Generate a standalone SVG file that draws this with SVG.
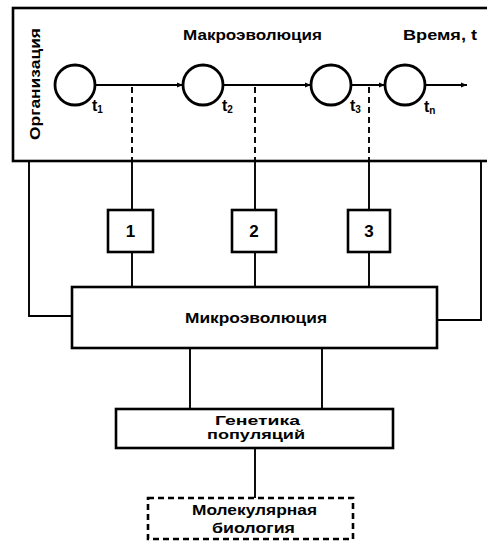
<svg xmlns="http://www.w3.org/2000/svg" width="487" height="542" viewBox="0 0 487 542">
<style>
.box{fill:#fff;stroke:#000;stroke-width:2.6}
.dbox{fill:#fff;stroke:#000;stroke-width:2.6;stroke-dasharray:6 4}
.st{fill:#fff;stroke:#000;stroke-width:2.8}
.ln{fill:none;stroke:#000;stroke-width:1.9}
.dl{fill:none;stroke:#000;stroke-width:1.9;stroke-dasharray:6 4}
.t{font-family:"Liberation Sans",Arial,sans-serif;font-weight:bold;fill:#000}
</style>
<defs>
<marker id="ah" viewBox="0 0 10 10" refX="10" refY="5" markerWidth="8" markerHeight="6" markerUnits="userSpaceOnUse" orient="auto">
<path d="M0,1 L10,5 L0,9 Z" fill="#000"/>
</marker>
</defs>
<rect width="487" height="542" fill="#fff"/>
<g id="organization">
<rect class="box" x="13" y="8" width="480" height="153"/>
<text class="t" font-size="15" transform="translate(40,140) rotate(-90)" textLength="112" lengthAdjust="spacingAndGlyphs">Организация</text>
<text class="t" font-size="15" x="183" y="40" textLength="139" lengthAdjust="spacingAndGlyphs">Макроэволюция</text>
<text class="t" font-size="15" x="403" y="40" textLength="74" lengthAdjust="spacingAndGlyphs">Время, t</text>
</g>
<g id="connectors">
<line class="ln" x1="95" y1="85" x2="183" y2="85" marker-end="url(#ah)"/>
<line class="ln" x1="223" y1="85" x2="311" y2="85" marker-end="url(#ah)"/>
<line class="ln" x1="351" y1="85" x2="385" y2="85" marker-end="url(#ah)"/>
<line class="ln" x1="425" y1="85" x2="467" y2="85" marker-end="url(#ah)"/>
<line class="dl" x1="132" y1="87" x2="132" y2="161"/>
<line class="dl" x1="255" y1="87" x2="255" y2="161"/>
<line class="dl" x1="369" y1="87" x2="369" y2="161"/>
<line class="ln" x1="132" y1="161" x2="132" y2="210"/>
<line class="ln" x1="255" y1="161" x2="255" y2="210"/>
<line class="ln" x1="369" y1="161" x2="369" y2="210"/>
<line class="ln" x1="132" y1="252" x2="132" y2="287"/>
<line class="ln" x1="255" y1="252" x2="255" y2="287"/>
<line class="ln" x1="369" y1="252" x2="369" y2="287"/>
<polyline class="ln" points="29,161 29,316 72,316"/>
<polyline class="ln" points="437,320 481,320 481,161"/>
<line class="ln" x1="190" y1="348" x2="190" y2="409"/>
<line class="ln" x1="322" y1="348" x2="322" y2="409"/>
<line class="ln" x1="255" y1="448" x2="255" y2="498"/>
</g>
<g id="t1">
<circle class="st" cx="75" cy="85" r="20"/>
<text class="t" font-size="16" x="92" y="111">t<tspan font-size="10" dy="2">1</tspan></text>
</g>
<g id="t2">
<circle class="st" cx="203" cy="85" r="20"/>
<text class="t" font-size="16" x="222" y="111">t<tspan font-size="10" dy="2">2</tspan></text>
</g>
<g id="t3">
<circle class="st" cx="331" cy="85" r="20"/>
<text class="t" font-size="16" x="350" y="111">t<tspan font-size="10" dy="2">3</tspan></text>
</g>
<g id="tn">
<circle class="st" cx="405" cy="85" r="20"/>
<text class="t" font-size="16" x="424" y="112">t<tspan font-size="10" dy="2">n</tspan></text>
</g>
<g id="box1">
<rect class="box" x="108" y="210" width="45" height="42"/>
<text class="t" font-size="17" x="130.5" y="237" text-anchor="middle">1</text>
</g>
<g id="box2">
<rect class="box" x="232" y="210" width="44" height="42"/>
<text class="t" font-size="17" x="254" y="237" text-anchor="middle">2</text>
</g>
<g id="box3">
<rect class="box" x="348" y="210" width="42" height="42"/>
<text class="t" font-size="17" x="369" y="237" text-anchor="middle">3</text>
</g>
<g id="microevolution">
<rect class="box" x="72" y="287" width="365" height="61"/>
<text class="t" font-size="15" x="185" y="323" textLength="142" lengthAdjust="spacingAndGlyphs">Микроэволюция</text>
</g>
<g id="population-genetics">
<rect class="box" x="116" y="409" width="277" height="39"/>
<text class="t" font-size="13" x="215" y="425" textLength="85" lengthAdjust="spacingAndGlyphs">Генетика</text>
<text class="t" font-size="13" x="207" y="439" textLength="98" lengthAdjust="spacingAndGlyphs">популяций</text>
</g>
<g id="molecular-biology">
<rect class="dbox" x="148" y="498" width="205" height="41"/>
<text class="t" font-size="14" x="192" y="515" textLength="125" lengthAdjust="spacingAndGlyphs">Молекулярная</text>
<text class="t" font-size="14" x="212" y="533" textLength="83" lengthAdjust="spacingAndGlyphs">биология</text>
</g>
</svg>
